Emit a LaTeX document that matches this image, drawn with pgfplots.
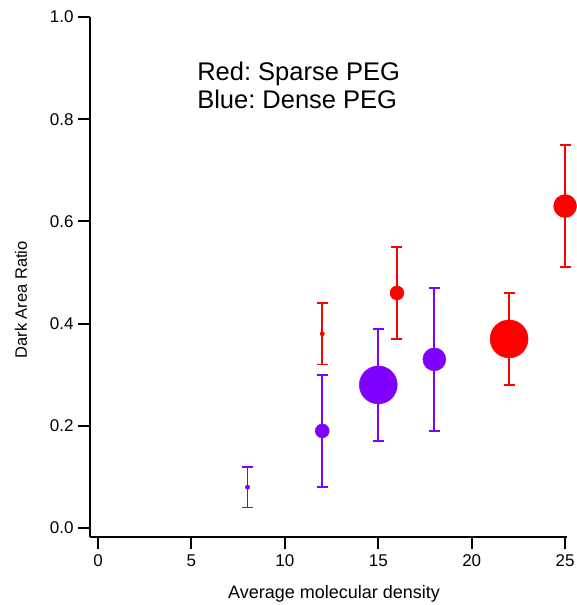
\documentclass[border=0pt]{standalone}
\usepackage{fontspec}
\setmainfont{Liberation Sans}
\usepackage{pgfplots}
\pgfplotsset{compat=1.18}
\frenchspacing
\definecolor{pur}{RGB}{128,0,255}
\definecolor{rd}{RGB}{255,0,0}
\pgfplotsset{pt/.style={only marks, mark=*, color=#1,
  mark options={draw=none, fill=#1},
  error bars/y dir=both, error bars/y explicit,
  error bars/error bar style={line width=1.8pt, #1},
  error bars/error mark options={rotate=90, mark size=5.5pt, line width=1.8pt, #1, draw=#1}}}
\begin{document}
\begin{tikzpicture}[x=1pt,y=1pt]
\useasboundingbox (0,0) rectangle (577,605);
\begin{axis}[
  at={(90pt,68pt)}, anchor=south west,
  scale only axis, width=477pt, height=520pt,
  xmin=-0.43, xmax=25.1, ymin=-0.0176, ymax=1.0,
  axis lines*=left,
  axis line style={line width=2pt},
  clip=false,
  tick align=outside,
  major tick length=12pt,
  every tick/.style={line width=2pt, black},
  xtick={0,5,10,15,20,25},
  ytick={0,0.2,0.4,0.6,0.8,1.0},
  yticklabel style={/pgf/number format/fixed, /pgf/number format/fixed zerofill, /pgf/number format/precision=1},
  /pgf/number format/assume math mode=true,
  tick label style={font=\fontsize{17}{17}\selectfont},
  xticklabel style={yshift=-2pt},
  yticklabel style={xshift=-1pt},
  xlabel={Average molecular density},
  ylabel={Dark Area Ratio},
  xlabel style={font=\fontsize{18}{18}\selectfont, at={([yshift=-62pt]rel axis cs:0.5115,0)}, anchor=base},
  ylabel style={font=\fontsize{16.5}{16.5}\selectfont, at={([xshift=-63pt]rel axis cs:0,0.456)}, anchor=base},
]
% Blue: Dense PEG
\addplot[pt=pur, mark size=2.2pt] coordinates {(8,0.08) +- (0,0.04)};
\addplot[pt=pur, mark size=7pt] coordinates {(12,0.19) +- (0,0.11)};
\addplot[pt=pur, mark size=19pt] coordinates {(15,0.28) +- (0,0.11)};
\addplot[pt=pur, mark size=11.5pt] coordinates {(18,0.33) +- (0,0.14)};
% Red: Sparse PEG
\addplot[pt=rd, mark size=2.2pt] coordinates {(12,0.38) +- (0,0.06)};
\addplot[pt=rd, mark size=7pt] coordinates {(16,0.46) +- (0,0.09)};
\addplot[pt=rd, mark size=19pt] coordinates {(22,0.37) +- (0,0.09)};
\addplot[pt=rd, mark size=11.5pt] coordinates {(25,0.63) +- (0,0.12)};
\node[anchor=base west, font=\fontsize{25.5}{25.5}\selectfont, inner sep=0pt] at (axis cs:5.3,0.875) {Red: Sparse PEG};
\node[anchor=base west, font=\fontsize{25.5}{25.5}\selectfont, inner sep=0pt] at (axis cs:5.3,0.82) {Blue: Dense PEG};
\end{axis}
\end{tikzpicture}
\end{document}
